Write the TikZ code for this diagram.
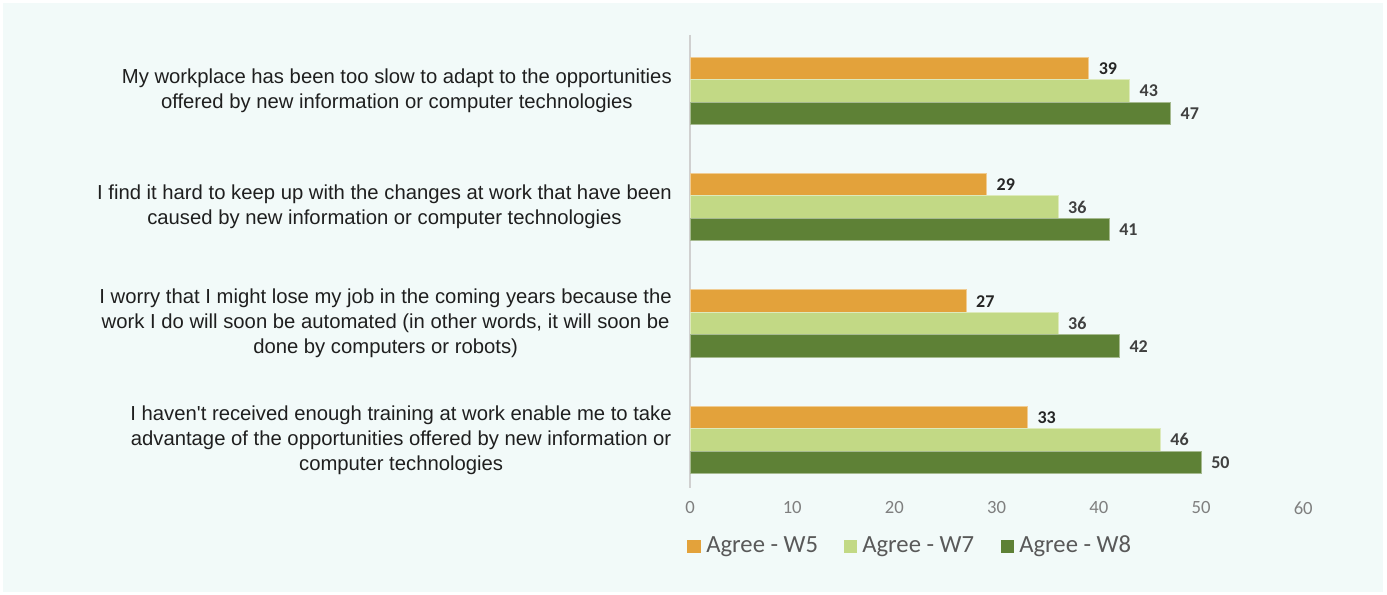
\documentclass[tikz,border=0pt]{standalone}
\usepackage{fontspec}
\setmainfont{Liberation Sans}
\newfontfamily\narrowfont{Carlito}
\definecolor{bgmint}{HTML}{F2FAF9}
\definecolor{cOrange}{HTML}{E3A23B}
\definecolor{cLight}{HTML}{C2D985}
\definecolor{cDark}{HTML}{5E8136}
\definecolor{axisgray}{HTML}{D0D0D0}
\definecolor{tickgray}{HTML}{7F7F7F}
\definecolor{legendgray}{HTML}{595959}
\definecolor{valdark}{HTML}{262626}
\definecolor{valgray}{HTML}{404040}
\begin{document}
\begin{tikzpicture}[x=0.75pt,y=-0.75pt,
  catlabel/.style={anchor=east,inner sep=0pt,align=center,text=black!88,font=\fontsize{15.2}{18.75}\selectfont},
  barbox/.style={draw=white!45!#1,line width=0.5pt,fill=#1},
  vallabel/.style={anchor=west,inner sep=0pt,font=\narrowfont\bfseries\fontsize{13.5}{15}\selectfont},
  ticklabel/.style={inner sep=0pt,text=tickgray,font=\narrowfont\fontsize{14}{16}\selectfont},
  legtext/.style={anchor=west,inner sep=0pt,text=legendgray,font=\narrowfont\fontsize{18.5}{20}\selectfont},
  legbox/.style={fill=#1,draw=none}
]
\useasboundingbox (0,0) rectangle (1387,595);
\fill[white] (0,0) rectangle (1387,595);
\fill[bgmint] (3,3) rectangle (1383,592);

% axis
\coordinate (axtop) at (690,35);
\coordinate (axbot) at (690,488);
\draw[axisgray,line width=1pt] (axtop) -- (axbot);

% bars
\foreach \i/\a/\b/\c in {0/39/43/47,1/29/36/41,2/27/36/42,3/33/46/50}{
  \pgfmathsetmacro{\t}{57+116.3*\i}
  \pgfmathsetmacro{\ta}{\t+22.5}
  \pgfmathsetmacro{\tb}{\t+45}
  \pgfmathsetmacro{\tc}{\t+67.5}
  \pgfmathsetmacro{\xa}{690+10.22*\a}
  \pgfmathsetmacro{\xb}{690+10.22*\b}
  \pgfmathsetmacro{\xc}{690+10.22*\c}
  \draw[barbox=cOrange] (690,\t) rectangle (\xa,\ta);
  \draw[barbox=cLight] (690,\ta) rectangle (\xb,\tb);
  \draw[barbox=cDark] (690,\tb) rectangle (\xc,\tc);
  \node[vallabel,text=valdark] (va\i) at (\xa+10,\t+11.5) {\a};
  \node[vallabel,text=valgray] (vb\i) at (\xb+10,\ta+11.5) {\b};
  \node[vallabel,text=valgray] (vc\i) at (\xc+10,\tb+11.5) {\c};
}

% category labels
\node[catlabel] (cat1) at (672,90.5) {My workplace has been too slow to adapt to the opportunities\\offered by new information or computer technologies};
\node[catlabel] (cat2) at (672,207) {I find it hard to keep up with the changes at work that have been\\caused by new information or computer technologies};
\node[catlabel] (cat3) at (672,323.5) {I worry that I might lose my job in the coming years because the\\work I do will soon be automated (in other words, it will soon be\\done by computers or robots)};
\node[catlabel] (cat4) at (672,440) {I haven\textquotesingle t received enough training at work enable me to take\\advantage of the opportunities offered by new information or\\computer technologies};

% ticks
\foreach \k in {0,...,6}{
  \pgfmathtruncatemacro{\v}{10*\k}
  \node[ticklabel] (tick\k) at (690+102.2*\k,508) {\v};
}

% legend
\fill[legbox=cOrange] (687,540) rectangle (701,553);
\node[legtext] (leg1) at (706,546.5) {Agree - W5};
\fill[legbox=cLight] (844,540) rectangle (857,553);
\node[legtext] (leg2) at (862,546.5) {Agree - W7};
\fill[legbox=cDark] (1001,540) rectangle (1014,553);
\node[legtext] (leg3) at (1019,546.5) {Agree - W8};
\end{tikzpicture}
\end{document}
